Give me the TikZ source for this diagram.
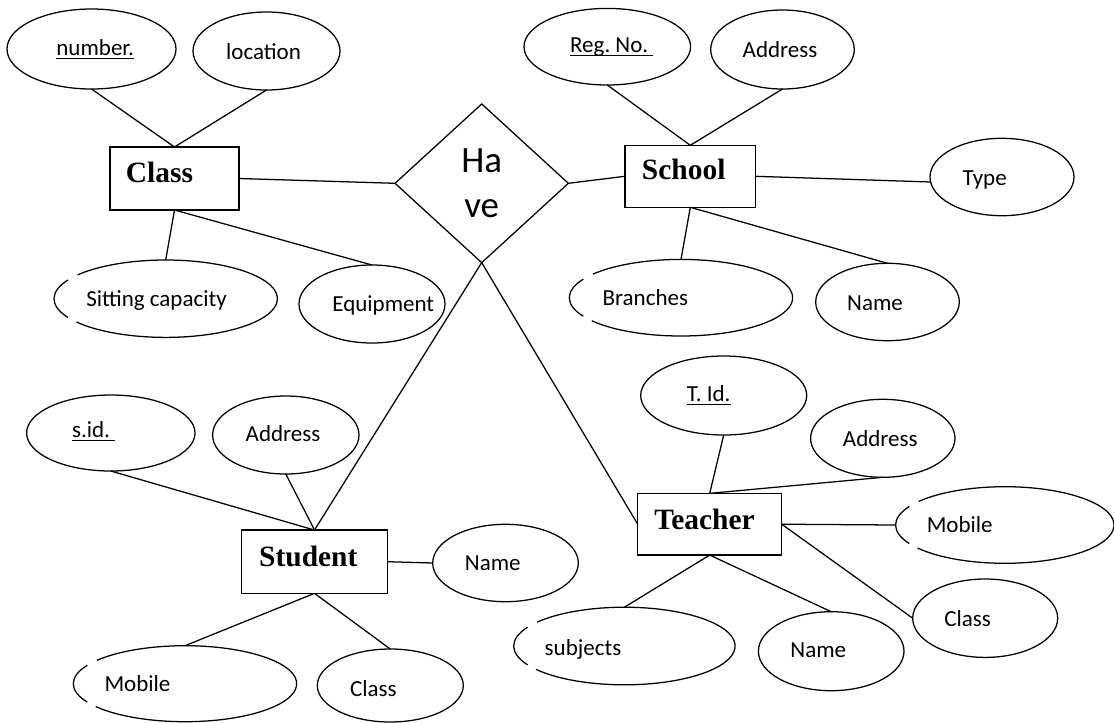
\documentclass[tikz,border=0pt]{standalone}
\usepackage{fontspec}
\setmainfont{Carlito}
\newfontfamily\timesf{Liberation Serif}
\usetikzlibrary{shapes.geometric}
\newlength\pxu \setlength\pxu{0.75pt}
\newlength\ulw
\newcommand\ulx[1]{\settowidth\ulw{#1}\rlap{\rule[-3pt]{\ulw}{0.9pt}}#1}
\newcommand\tx[3]{\raisebox{#2\pxu}[0pt][0pt]{\makebox[0pt][l]{\hspace*{#1\pxu}\makebox[0pt][c]{#3}}}}
\newcommand\attf{\fontsize{17.25}{20}\selectfont}
\newcommand\entf{\timesf\bfseries\fontsize{22.1}{26}\selectfont}
\newcommand\relf{\fontsize{27.75}{34.2}\selectfont}
\newcommand\att[9]{\node[#1, minimum width={2*#5*0.75pt}, minimum height={2*#6*0.75pt}] (#2) at (#3,#4) {\tx{#7}{#8}{#9}};}
\newcommand\gapell[3]{%
 \draw[conn] ([shift={({#2*cos(151)},{-#3*sin(151)})}]#1.center) arc[start angle=151,end angle=209,x radius={#2*0.75pt},y radius={#3*0.75pt}];
 \draw[conn] ([shift={({#2*cos(217)},{-#3*sin(217)})}]#1.center) arc[start angle=217,end angle=502,x radius={#2*0.75pt},y radius={#3*0.75pt}];}
\tikzset{
 conn/.style={line width=0.95pt, black},
 ent/.style={draw, rectangle, line width=1.15pt, inner sep=0pt, outer sep=0pt, font=\entf},
 att/.style={draw, ellipse, line width=0.95pt, inner sep=0pt, outer sep=0pt, font=\attf},
 attg/.style={att, draw=none},
 rel/.style={draw, diamond, line width=0.95pt, inner sep=0pt, outer sep=0pt, align=center, font=\relf}
}
\begin{document}
\frenchspacing
\begin{tikzpicture}[x=0.75pt, y=-0.75pt]
\useasboundingbox (0,0) rectangle (1114,722);
% relationship
\node[rel, minimum width={173.3*0.75pt}, minimum height={158.7*0.75pt}] (hv) at (481.7,183.3) {Ha\\ve};
% entities
\node[ent, minimum width={129*0.75pt}, minimum height={63*0.75pt}] (cls) at (174.5,178.5) {\tx{-15}{-4.2}{Class}};
\node[ent, minimum width={130.7*0.75pt}, minimum height={62*0.75pt}] (sch) at (690.3,176.3) {\tx{-6.6}{-3.4}{School}};
\node[ent, minimum width={145.6*0.75pt}, minimum height={63.3*0.75pt}] (stu) at (314.5,561.7) {\tx{-6.2}{-4.7}{Student}};
\node[ent, minimum width={144*0.75pt}, minimum height={61.7*0.75pt}] (tea) at (709.7,524.2) {\tx{-5.2}{-5.5}{Teacher}};
% attributes
\att{att}{cnum}{91.5}{49}{84.5}{40}{3.7}{-6}{\ulx{number.}}
\att{att}{cloc}{266.5}{51}{73.5}{39}{-3}{-8.3}{location}
\att{attg}{csit}{165.7}{298.7}{111.7}{38.7}{-9.2}{-8}{Sitting capacity}
\att{att}{cequ}{372}{304}{73}{39}{11.3}{-7.7}{Equipment}
\att{att}{sreg}{607.3}{46.7}{83.3}{38.3}{4.5}{-5.6}{\ulx{Reg. No.\ }}
\att{att}{sadd}{782.5}{49.5}{71.8}{39.5}{-2.5}{-7.8}{Address}
\att{att}{styp}{1002}{177}{72}{38.7}{-17.3}{-8}{Type}
\att{attg}{sbra}{681}{297.7}{111.7}{38.3}{-35.7}{-7.3}{Branches}
\att{att}{snam}{887.5}{302}{71.8}{38.7}{-12.5}{-8}{Name}
\att{att}{tsid}{110.8}{433}{84.2}{38}{-17.1}{-4.3}{\ulx{s.id.\ }}
\att{att}{tadd}{285.8}{435}{73.2}{39}{-2.8}{-6.7}{Address}
\att{att}{tnam}{505.5}{563}{72.8}{38.7}{-12.7}{-7.7}{Name}
\att{attg}{tmob}{185}{683.7}{111.7}{38}{-47.5}{-8}{Mobile}
\att{att}{tcls}{390.3}{685.5}{73}{36.5}{-17}{-10.5}{Class}
\att{att}{hid}{723.7}{395.5}{83}{39.5}{-15}{-5.5}{\ulx{T. Id.}}
\att{att}{hadd}{882.8}{438.3}{72.2}{39}{-2.5}{-8.4}{Address}
\att{attg}{hmob}{1004.8}{525}{109.2}{38.3}{-45.1}{-7.3}{Mobile}
\att{att}{hcls}{985.2}{618.2}{72.5}{39.2}{-17.5}{-7.8}{Class}
\att{att}{hnam}{831.2}{651.2}{72.8}{39.5}{-12.9}{-6.5}{Name}
\att{attg}{hsub}{624.4}{646}{110.7}{38.8}{-41.4}{-9}{subjects}
% broken-outline ellipses
\gapell{csit}{111.7}{38.7}
\gapell{sbra}{111.7}{38.3}
\gapell{tmob}{111.7}{38}
\gapell{hmob}{109.2}{38.3}
\gapell{hsub}{110.7}{38.8}
% connectors
\draw[conn] (cnum.south) -- (cls.north);
\draw[conn] (cloc.south) -- (cls.north);
\draw[conn] (cls.east) -- (hv.west);
\draw[conn] (cls.south) -- (csit.north);
\draw[conn] (cls.south) -- (cequ.north);
\draw[conn] (sreg.south) -- (sch.north);
\draw[conn] (sadd.south) -- (sch.north);
\draw[conn] (hv.east) -- (sch.west);
\draw[conn] (sch.east) -- (styp.184);
\draw[conn] (sch.south) -- (sbra.north);
\draw[conn] (sch.south) -- (snam.north);
\draw[conn] (hv.south) -- (stu.north);
\draw[conn] (hv.south) -- (tea.west);
\draw[conn] (tsid.south) -- (stu.north);
\draw[conn] (tadd.south) -- (stu.north);
\draw[conn] (stu.east) -- (tnam.west);
\draw[conn] (stu.south) -- (tmob.north);
\draw[conn] (stu.south) -- (tcls.north);
\draw[conn] (hid.south) -- (tea.north);
\draw[conn] (hadd.south) -- (tea.north);
\draw[conn] (tea.east) -- (hmob.west);
\draw[conn] (tea.east) -- (hcls.west);
\draw[conn] (tea.south) -- (hnam.north);
\draw[conn] (tea.south) -- (hsub.north);
\end{tikzpicture}
\end{document}
